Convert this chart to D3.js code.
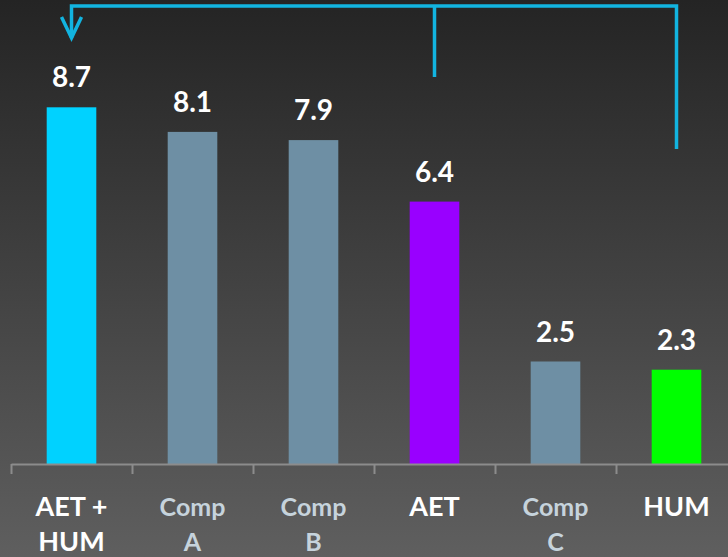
<!DOCTYPE html>
<html>
<head>
<meta charset="utf-8">
<script src="https://cdn.jsdelivr.net/npm/d3@7/dist/d3.min.js"></script>
<style>
  html, body { margin: 0; padding: 0; background: #3a3a3a; }
  svg { display: block; }
</style>
</head>
<body>
<svg id="chart" width="728" height="557"></svg>
<script>
// Categories, values and per-bar styling groups
const categories = ["AET + HUM", "Comp A", "Comp B", "AET", "Comp C", "HUM"];
const labelLines = [["AET +", "HUM"], ["Comp", "A"], ["Comp", "B"], ["AET"], ["Comp", "C"], ["HUM"]];
const values = [8.7, 8.1, 7.9, 6.4, 2.5, 2.3];
const kinds = ["combo", "comp", "comp", "aet", "comp", "hum"];

const barColor = { combo: "#00d2ff", comp: "#6e8fa4", aet: "#9900ff", hum: "#00ff00" };
const labelColor = { combo: "#ffffff", comp: "#c6d3dc", aet: "#ffffff", hum: "#ffffff" };

const W = 728, H = 557;
const svg = d3.select("#chart");

// Background gradient
const defs = svg.append("defs");
const grad = defs.append("linearGradient").attr("id", "bg").attr("x1", 0).attr("y1", 0).attr("x2", 0).attr("y2", 1);
grad.append("stop").attr("offset", "0%").attr("stop-color", "#242424");
grad.append("stop").attr("offset", "100%").attr("stop-color", "#5f5f5f");
svg.append("rect").attr("width", W).attr("height", H).attr("fill", "url(#bg)");

const left = 11, right = 737, baseline = 464;

const x = d3.scaleBand().domain(categories).range([left, right])
  .paddingInner(0.59).paddingOuter(0.295);
const y = d3.scaleLinear().domain([0, 10]).range([baseline, 54]);

// Bars
svg.append("g").selectAll("rect").data(categories).join("rect")
  .attr("x", d => x(d))
  .attr("y", (d, i) => y(values[i]))
  .attr("width", x.bandwidth())
  .attr("height", (d, i) => y(0) - y(values[i]))
  .attr("fill", (d, i) => barColor[kinds[i]]);

// Value labels
svg.append("g").selectAll("text").data(categories).join("text")
  .attr("x", d => x(d) + x.bandwidth() / 2)
  .attr("y", (d, i) => y(values[i]) - 20)
  .attr("text-anchor", "middle")
  .attr("font-family", "Lato, 'Open Sans', sans-serif")
  .attr("font-weight", 700)
  .attr("font-size", 28)
  .attr("fill", "#ffffff")
  .text((d, i) => values[i].toFixed(1));

// Category axis: ticks sit on the band boundaries
const edge = d3.scaleLinear().domain([0, categories.length]).range([left, right]);
const axisG = svg.append("g").attr("transform", `translate(0,${baseline})`)
  .call(d3.axisBottom(edge).tickValues(d3.range(categories.length))
    .tickFormat("").tickSizeInner(10).tickSizeOuter(0));
axisG.selectAll("path, line").attr("stroke", "#8c8c8c").attr("stroke-width", 2);

// Category labels (one or two lines)
const catG = svg.append("g").selectAll("text").data(categories).join("text")
  .attr("text-anchor", "middle")
  .attr("font-family", "Lato, 'Open Sans', sans-serif")
  .attr("font-weight", 700)
  .attr("font-size", (d, i) => kinds[i] === "comp" ? 25 : 27)
  .attr("fill", (d, i) => labelColor[kinds[i]]);
catG.each(function (d, i) {
  const t = d3.select(this);
  labelLines[i].forEach((line, k) => {
    t.append("tspan")
      .attr("x", x(d) + x.bandwidth() / 2)
      .attr("y", 516 + k * 35)
      .text(line);
  });
});

// Bracket linking AET and HUM to the combined bar
const cx = d => x(d) + x.bandwidth() / 2;
const bracketTop = 6;
const br = svg.append("g").attr("fill", "none").attr("stroke", "#12b4e0")
  .attr("stroke-width", 3.5).attr("stroke-linejoin", "miter");
br.append("path").attr("d",
  `M${cx("AET + HUM")},38 V${bracketTop} H${cx("HUM")} V149`);
br.append("path").attr("d", `M${cx("AET")},${bracketTop} V77`);
br.append("path").attr("d",
  `M${cx("AET + HUM") - 10},17 L${cx("AET + HUM")},38 L${cx("AET + HUM") + 10},17`);
</script>
</body>
</html>
